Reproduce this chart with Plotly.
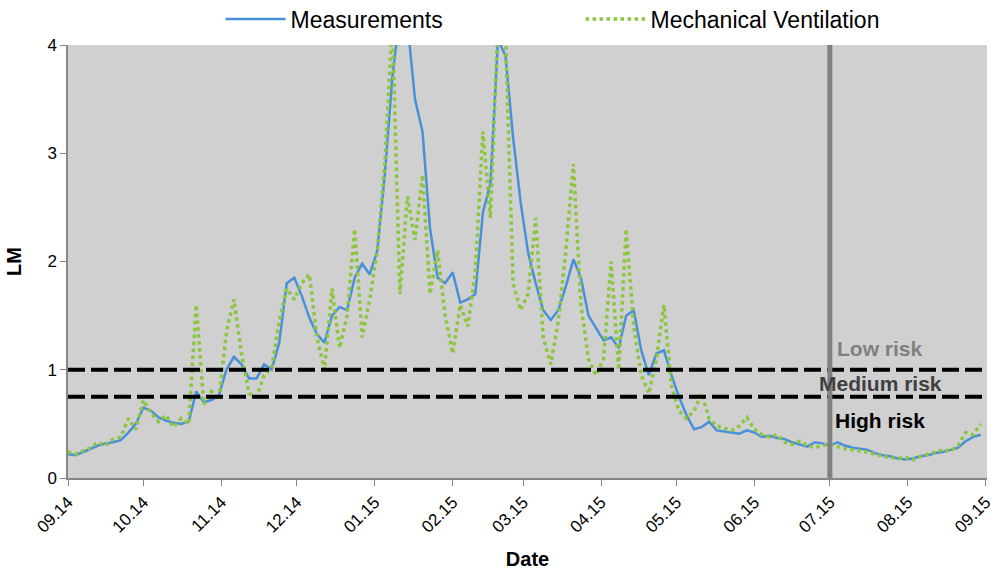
import pandas as pd
import plotly.graph_objects as go

# ---- data (3-day samples starting 2014-09-01) ----
start_date = "2014-09-01"
measurements = [
    0.22, 0.21, 0.24, 0.27, 0.30, 0.32, 0.33, 0.35, 0.42, 0.50,
    0.65, 0.62, 0.56, 0.53, 0.51, 0.50, 0.52, 0.80, 0.70, 0.72,
    0.76, 1.00, 1.12, 1.05, 0.92, 0.92, 1.05, 1.00, 1.25, 1.80,
    1.85, 1.68, 1.48, 1.33, 1.25, 1.50, 1.58, 1.55, 1.85, 1.98,
    1.88, 2.10, 2.80, 3.70, 4.30, 4.20, 3.50, 3.20, 2.30, 1.85,
    1.80, 1.90, 1.62, 1.65, 1.70, 2.45, 2.72, 4.05, 3.90, 3.15,
    2.55, 2.08, 1.80, 1.55, 1.46, 1.55, 1.77, 2.02, 1.85, 1.50,
    1.38, 1.27, 1.30, 1.20, 1.50, 1.55, 1.18, 0.95, 1.15, 1.18,
    0.95, 0.75, 0.58, 0.45, 0.47, 0.52, 0.44, 0.43, 0.42, 0.41,
    0.44, 0.42, 0.38, 0.39, 0.37, 0.36, 0.33, 0.31, 0.29, 0.33,
    0.32, 0.30, 0.33, 0.30, 0.28, 0.27, 0.26, 0.23, 0.21, 0.20,
    0.18, 0.17, 0.18, 0.20, 0.21, 0.23, 0.24, 0.26, 0.28, 0.34,
    0.38, 0.40,
]
mech_ventilation = [
    0.24, 0.22, 0.25, 0.28, 0.33, 0.30, 0.36, 0.38, 0.55, 0.45,
    0.72, 0.60, 0.52, 0.58, 0.47, 0.55, 0.50, 1.60, 0.68, 0.80,
    0.72, 1.35, 1.65, 1.15, 0.78, 0.75, 0.95, 1.02, 1.45, 1.75,
    1.65, 1.80, 1.88, 1.30, 1.00, 1.75, 1.20, 1.50, 2.30, 1.30,
    1.65, 2.10, 2.90, 4.20, 1.70, 2.60, 2.20, 2.80, 1.70, 2.10,
    1.50, 1.15, 1.60, 1.40, 1.90, 3.20, 2.40, 4.20, 4.10, 1.80,
    1.55, 1.70, 2.40, 1.30, 1.05, 1.45, 2.10, 2.90, 1.60, 1.10,
    0.95, 1.10, 2.00, 1.00, 2.30, 1.40, 0.95, 0.78, 1.10, 1.60,
    0.85, 0.62, 0.55, 0.62, 0.78, 0.55, 0.48, 0.46, 0.44, 0.48,
    0.56, 0.45, 0.40, 0.38, 0.40, 0.33, 0.31, 0.34, 0.30, 0.28,
    0.30, 0.31, 0.29, 0.27, 0.26, 0.25, 0.24, 0.22, 0.20, 0.19,
    0.18, 0.19, 0.17, 0.20, 0.22, 0.24, 0.26, 0.25, 0.30, 0.42,
    0.40, 0.50,
]
dates = pd.date_range(start=start_date, periods=len(measurements), freq="3D")

risk_thresholds = [1.0, 0.75]
risk_labels = ["Low risk", "Medium risk", "High risk"]
risk_label_values = [1.2, 0.87, 0.53]
risk_label_colors = ["#808080", "#404040", "#000000"]
risk_label_date = "2015-07-21"
marker_date = "2015-07-01"
x_range = ["2014-09-01", "2015-09-01 12:00"]
y_ticks = [0, 1, 2, 3, 4]

FONT = "Liberation Sans"

fig = go.Figure()
fig.add_trace(go.Scatter(
    x=dates, y=measurements, name="Measurements", mode="lines",
    line=dict(color="#4a90d9", width=2.5),
))
fig.add_trace(go.Scatter(
    x=dates, y=mech_ventilation, name="Mechanical Ventilation", mode="lines",
    line=dict(color="#8cc63f", width=3.5, dash="dot"),
))

for t in risk_thresholds:
    fig.add_shape(type="line", xref="paper", x0=0, x1=1, yref="y", y0=t, y1=t,
                  line=dict(color="black", width=4, dash="17px,6px"))

fig.add_shape(type="line", xref="x", x0=marker_date, x1=marker_date,
              yref="paper", y0=0, y1=1,
              line=dict(color="#808080", width=5))

for lab, v, c in zip(risk_labels, risk_label_values, risk_label_colors):
    fig.add_annotation(x=risk_label_date, y=v, xref="x", yref="y", text=f"<b>{lab}</b>",
                       showarrow=False, font=dict(family=FONT, size=21, color=c))

fig.update_layout(
    width=994, height=578,
    margin=dict(l=68, r=7, t=45, b=100, autoexpand=False),
    paper_bgcolor="white",
    plot_bgcolor="#d0d0d0",
    font=dict(family=FONT, color="#000000"),
    showlegend=True,
    legend=dict(orientation="h", x=0.166, xanchor="left", y=1.060, yanchor="middle",
                font=dict(family=FONT, size=23, color="#000000"),
                entrywidth=285, itemwidth=60, bgcolor="rgba(0,0,0,0)"),
)
fig.update_xaxes(
    type="date", range=x_range, tick0="2014-09-01", dtick="M1", tickformat="%m.%y",
    tickangle=-45, showgrid=False, zeroline=False, ticklabeloverflow="allow",
    showline=True, linecolor="#868686", linewidth=1.5,
    ticks="outside", ticklen=6, tickcolor="#868686",
    tickfont=dict(family=FONT, size=17, color="#000000"),
    title=dict(text="<b>Date</b>", font=dict(family=FONT, size=20), standoff=16),
)
fig.update_yaxes(
    range=[0, 4], tickvals=y_ticks, showgrid=False, zeroline=False,
    showline=True, linecolor="#868686", linewidth=1.5,
    ticks="outside", ticklen=6, tickcolor="#868686",
    tickfont=dict(family=FONT, size=17, color="#000000"),
    title=dict(text="<b>LM</b>", font=dict(family=FONT, size=20), standoff=20),
)

# remove the browser's default 8px body margin so the figure fills the window
fig.write_html("out.html", config={"displayModeBar": False},
               post_script="document.body.style.margin='0';")
